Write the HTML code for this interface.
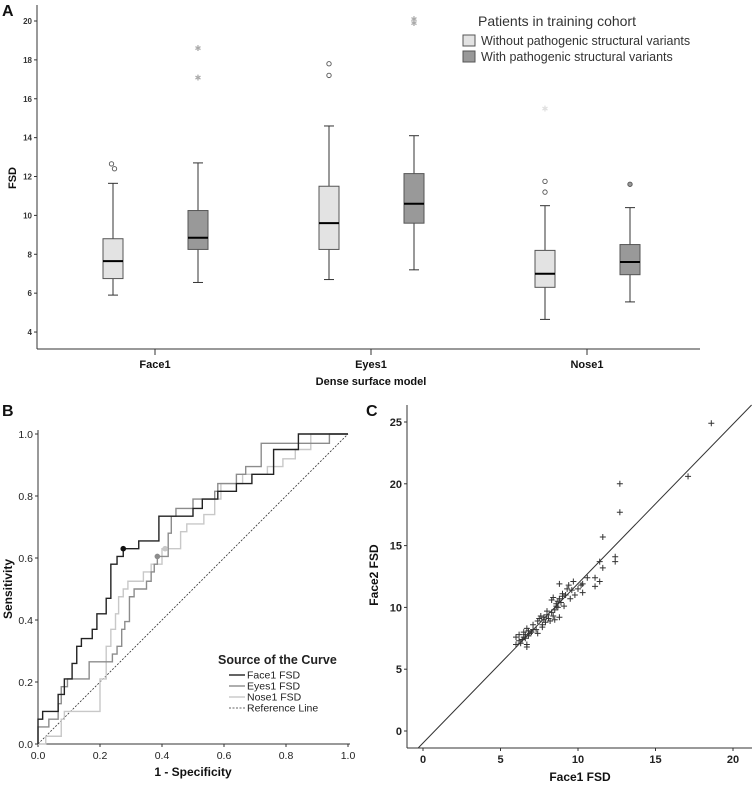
<!DOCTYPE html>
<html><head><meta charset="utf-8"><style>
body{margin:0;background:#fff;}
svg{display:block;font-family:"Liberation Sans",sans-serif;}
</style></head><body>
<svg id="fig" width="753" height="787" viewBox="0 0 753 787" xmlns="http://www.w3.org/2000/svg">
<rect width="753" height="787" fill="#fff"/>
<text x="2" y="16" font-size="16" font-weight="bold" fill="#111">A</text>
<text x="2" y="416" font-size="16" font-weight="bold" fill="#111">B</text>
<text x="366" y="416" font-size="16" font-weight="bold" fill="#111">C</text>
<g id="pa"></g>
<g id="pb"></g>
<g id="pc"></g>
</svg>
<script>
// ---------- Panel A data ----------
const groups=["Face1","Eyes1","Nose1"];
const lightStats=[[5.9,6.75,7.65,8.8,11.65],[6.7,8.25,9.6,11.5,14.6],[4.65,6.3,7.0,8.2,10.5]];
const darkStats=[[6.55,8.25,8.85,10.25,12.7],[7.2,9.6,10.6,12.15,14.1],[5.55,6.95,7.6,8.5,10.4]];
const lightCircles=[[12.4,12.65],[17.2,17.8],[11.2,11.75]];
const lightStars=[[],[],[15.5]];
const darkCircles=[[],[],[11.6]];
const darkStars=[[17.1,18.6],[19.9,20.1],[]];
const aTicks=[4,6,8,10,12,14,16,18,20];
// ---------- Panel B data ----------
const faceFpr=[0,0,0.015,0.015,0.065,0.065,0.085,0.085,0.11,0.11,0.125,0.125,0.14,0.14,0.175,0.175,0.19,0.19,0.22,0.22,0.235,0.235,0.255,0.255,0.275,0.275,0.325,0.325,0.39,0.39,0.5,0.5,0.53,0.53,0.58,0.58,0.64,0.64,0.69,0.69,0.76,0.76,0.84,0.84,1];
const faceTpr=[0,0.08,0.08,0.105,0.105,0.16,0.16,0.21,0.21,0.26,0.26,0.315,0.315,0.34,0.34,0.37,0.37,0.42,0.42,0.47,0.47,0.58,0.58,0.605,0.605,0.63,0.63,0.655,0.655,0.735,0.735,0.76,0.76,0.79,0.79,0.815,0.815,0.84,0.84,0.87,0.87,0.95,0.95,1,1];
const eyesFpr=[0,0,0.035,0.035,0.065,0.065,0.075,0.075,0.095,0.095,0.165,0.165,0.24,0.24,0.255,0.255,0.27,0.27,0.28,0.28,0.295,0.295,0.31,0.31,0.35,0.35,0.365,0.365,0.375,0.375,0.385,0.385,0.42,0.42,0.43,0.43,0.445,0.445,0.5,0.5,0.57,0.57,0.58,0.58,0.64,0.64,0.67,0.67,0.72,0.72,0.94,0.94,1];
const eyesTpr=[0,0.055,0.055,0.08,0.08,0.13,0.13,0.185,0.185,0.21,0.21,0.265,0.265,0.29,0.29,0.315,0.315,0.37,0.37,0.395,0.395,0.475,0.475,0.5,0.5,0.525,0.525,0.555,0.555,0.58,0.58,0.605,0.605,0.68,0.68,0.735,0.735,0.76,0.76,0.79,0.79,0.815,0.815,0.84,0.84,0.87,0.87,0.895,0.895,0.97,0.97,1,1];
const noseFpr=[0,0.025,0.025,0.075,0.075,0.085,0.085,0.2,0.2,0.22,0.22,0.235,0.235,0.25,0.25,0.26,0.26,0.275,0.275,0.29,0.29,0.34,0.34,0.365,0.365,0.4,0.4,0.46,0.46,0.48,0.48,0.535,0.535,0.57,0.57,0.59,0.59,0.66,0.66,0.74,0.74,0.79,0.79,0.83,0.83,0.88,0.88,1];
const noseTpr=[0,0,0.025,0.025,0.08,0.08,0.105,0.105,0.21,0.21,0.315,0.315,0.37,0.37,0.42,0.42,0.475,0.475,0.5,0.5,0.525,0.525,0.555,0.555,0.58,0.58,0.63,0.63,0.685,0.685,0.71,0.71,0.74,0.74,0.79,0.79,0.84,0.84,0.87,0.87,0.895,0.895,0.92,0.92,0.95,0.95,1,1];
const cutFpr=[0.275,0.385,0.41];
const cutTpr=[0.63,0.605,0.63];
const bTicks=[0,0.2,0.4,0.6,0.8,1.0];
// ---------- Panel C data ----------
const face1=[6.0,6.0,6.2,6.2,6.3,6.4,6.5,6.5,6.6,6.6,6.7,6.7,6.7,6.8,6.8,6.9,7.0,7.1,7.1,7.3,7.4,7.4,7.5,7.6,7.7,7.7,7.8,7.8,7.9,8.0,8.1,8.2,8.3,8.3,8.4,8.4,8.5,8.5,8.6,8.6,8.7,8.7,8.8,8.8,8.8,8.9,9.0,9.1,9.2,9.3,9.4,9.5,9.6,9.7,9.8,10.0,10.2,10.3,10.6,11.1,11.1,11.4,11.4,11.6,11.6,12.4,12.4,12.7,12.7,17.1,18.6,10.3,9.0,8.0];
const face2=[7.0,7.6,7.3,7.8,7.1,7.4,7.6,8.0,7.8,7.5,6.8,7.0,8.3,7.7,8.1,7.9,8.0,8.2,8.6,8.2,7.9,8.9,9.1,9.3,8.6,8.4,9.0,9.2,8.8,9.7,9.1,8.9,9.6,10.6,10.8,9.3,9.0,9.8,10.1,10.3,10.0,10.5,11.9,10.7,9.2,10.4,11.1,10.1,11.0,11.5,11.8,10.7,11.4,12.1,11.0,11.5,11.8,11.2,12.4,12.4,11.7,12.1,13.7,13.2,15.7,14.1,13.7,20.0,17.7,20.6,24.9,11.9,10.9,9.4];
const fitIntercept=-0.97, fitSlope=1.29;
const cXTicks=[0,5,10,15,20];
const cYTicks=[0,5,10,15,20,25];

const NS="http://www.w3.org/2000/svg";
function mk(parent,tag,attrs,txt){const e=document.createElementNS(NS,tag);for(const k in attrs)e.setAttribute(k,attrs[k]);if(txt!==undefined)e.textContent=txt;parent.appendChild(e);return e;}

// ---------- Panel A ----------
(function(){
const g=document.getElementById('pa');
const ya=v=>21+(20-v)*19.44;
const xc=i=>155+i*216;
let e;
e=mk(g,'line',{x1:37,y1:5,x2:37,y2:349,stroke:'#333','stroke-width':1});

e=mk(g,'line',{x1:37,y1:349,x2:700,y2:349,stroke:'#333','stroke-width':1});

aTicks.forEach(t=>{
 mk(g,'line',{x1:34,y1:ya(t),x2:37,y2:ya(t),stroke:'#333'});
 e=mk(g,'text',{x:32,y:ya(t)+3,'font-size':8,'font-weight':'bold','text-anchor':'end',fill:'#333'},t);
 
});
groups.forEach((n,i)=>{
 mk(g,'line',{x1:xc(i),y1:349,x2:xc(i),y2:355,stroke:'#333'});
 e=mk(g,'text',{x:xc(i),y:368,'font-size':11,'font-weight':'bold','text-anchor':'middle',fill:'#111'},n);
 
});
e=mk(g,'text',{x:371,y:385,'font-size':11,'font-weight':'bold','text-anchor':'middle',fill:'#111'},'Dense surface model');

e=mk(g,'text',{x:16,y:178,'font-size':11,'font-weight':'bold','text-anchor':'middle',fill:'#111',transform:'rotate(-90 16 178)'},'FSD');

function box(cx,s,fill,nm){
 const bg=mk(g,'g',{});
 
 mk(bg,'line',{x1:cx,y1:ya(s[0]),x2:cx,y2:ya(s[4]),stroke:'#333'});
 mk(bg,'line',{x1:cx-5,y1:ya(s[0]),x2:cx+5,y2:ya(s[0]),stroke:'#333'});
 mk(bg,'line',{x1:cx-5,y1:ya(s[4]),x2:cx+5,y2:ya(s[4]),stroke:'#333'});
 mk(bg,'rect',{x:cx-10,y:ya(s[3]),width:20,height:ya(s[1])-ya(s[3]),fill:fill,stroke:'#555'});
 mk(bg,'line',{x1:cx-10,y1:ya(s[2]),x2:cx+10,y2:ya(s[2]),stroke:'#000','stroke-width':2});
}
function circ(cx,v,fill,stroke){const c=mk(g,'circle',{cx:cx,cy:ya(v),r:2.2,fill:fill,stroke:stroke,'stroke-width':0.9});
 }
function star(cx,v,col){const t=mk(g,'text',{x:cx,y:ya(v)+3,'font-size':8,'text-anchor':'middle',fill:col,'font-family':'DejaVu Sans, sans-serif'},'✱');
 }
groups.forEach((n,i)=>{
 const lx=xc(i)-42, dx=xc(i)+43;
 box(lx,lightStats[i],'#e3e3e3','box-light-'+n.toLowerCase());
 box(dx,darkStats[i],'#999','box-dark-'+n.toLowerCase());
 lightCircles[i].forEach((v,k)=>circ(lx+(i===0?(k?-1.5:1.5):0),v,'#fff','#555'));
 lightStars[i].forEach(v=>star(lx,v,'#e0e0e0'));
 darkCircles[i].forEach(v=>circ(dx,v,'#999','#555'));
 darkStars[i].forEach(v=>star(dx,v,'#aaa'));
});
e=mk(g,'text',{x:557,y:26,'font-size':14,'text-anchor':'middle',fill:'#333'},'Patients in training cohort');

[['#e3e3e3','Without pathogenic structural variants'],['#999','With pathogenic structural variants']].forEach((d,k)=>{
 const lg=mk(g,'g',{});
 
 mk(lg,'rect',{x:463,y:35+k*16,width:12,height:11,fill:d[0],stroke:'#555'});
 mk(lg,'text',{x:481,y:45+k*16,'font-size':12.5,fill:'#333'},d[1]);
});
})();

// ---------- Panel B ----------
(function(){
const g=document.getElementById('pb');
const xb=v=>38+v*310, yb=v=>744-v*310;
let e;
e=mk(g,'line',{x1:38,y1:430,x2:38,y2:744,stroke:'#333'});

e=mk(g,'line',{x1:38,y1:744,x2:350,y2:744,stroke:'#333'});

bTicks.forEach(t=>{
 mk(g,'line',{x1:35,y1:yb(t),x2:38,y2:yb(t),stroke:'#333'});
 e=mk(g,'text',{x:33,y:yb(t)+4,'font-size':10.5,'text-anchor':'end',fill:'#222'},t.toFixed(1));
 
 mk(g,'line',{x1:xb(t),y1:744,x2:xb(t),y2:747,stroke:'#333'});
 e=mk(g,'text',{x:xb(t),y:759,'font-size':10.5,'text-anchor':'middle',fill:'#222'},t.toFixed(1));
 
});
e=mk(g,'text',{x:193,y:776,'font-size':12,'font-weight':'bold','text-anchor':'middle',fill:'#111'},'1 - Specificity');

e=mk(g,'text',{x:12,y:589,'font-size':12,'font-weight':'bold','text-anchor':'middle',fill:'#111',transform:'rotate(-90 12 589)'},'Sensitivity');

e=mk(g,'line',{x1:xb(0),y1:yb(0),x2:xb(1),y2:yb(1),stroke:'#333','stroke-dasharray':'2,1.5','stroke-width':0.8});

function curve(fx,ty,col,nm){const p=fx.map((v,i)=>xb(v)+','+yb(ty[i])).join(' ');
 const l=mk(g,'polyline',{points:p,fill:'none',stroke:col,'stroke-width':1.4});
 }
curve(noseFpr,noseTpr,'#c8c8c8','nose1-roc-curve');
curve(eyesFpr,eyesTpr,'#8c8c8c','eyes1-roc-curve');
curve(faceFpr,faceTpr,'#222','face1-roc-curve');
const cc=['#111','#8c8c8c','#c8c8c8'];
cutFpr.forEach((v,i)=>{const c=mk(g,'circle',{cx:xb(v),cy:yb(cutTpr[i]),r:2.8,fill:cc[i]});
 });
e=mk(g,'text',{x:218,y:664,'font-size':12.5,'font-weight':'bold',fill:'#222'},'Source of the Curve');

[['#222','Face1 FSD',''],['#8c8c8c','Eyes1 FSD',''],['#c8c8c8','Nose1 FSD',''],['#333','Reference Line','2,1.5']].forEach((d,k)=>{
 const lg=mk(g,'g',{});
 
 const y=675+k*11;
 mk(lg,'line',{x1:229,y1:y,x2:245,y2:y,stroke:d[0],'stroke-width':d[2]?0.8:1.4,'stroke-dasharray':d[2]||'none'});
 mk(lg,'text',{x:247,y:y+3.5,'font-size':10.5,fill:'#222'},d[1]);
});
})();

// ---------- Panel C ----------
(function(){
const g=document.getElementById('pc');
const xcv=v=>423+v*15.5, ycv=v=>731-v*12.36;
let e;
e=mk(g,'line',{x1:407,y1:405,x2:407,y2:748,stroke:'#333'});

e=mk(g,'line',{x1:407,y1:748,x2:752,y2:748,stroke:'#333'});

cYTicks.forEach(t=>{
 mk(g,'line',{x1:404,y1:ycv(t),x2:407,y2:ycv(t),stroke:'#333'});
 e=mk(g,'text',{x:402,y:ycv(t)+4,'font-size':11,'font-weight':'bold','text-anchor':'end',fill:'#222'},t);
 
});
cXTicks.forEach(t=>{
 mk(g,'line',{x1:xcv(t),y1:748,x2:xcv(t),y2:751,stroke:'#333'});
 e=mk(g,'text',{x:xcv(t),y:763,'font-size':11,'font-weight':'bold','text-anchor':'middle',fill:'#222'},t);
 
});
e=mk(g,'text',{x:580,y:781,'font-size':12,'font-weight':'bold','text-anchor':'middle',fill:'#111'},'Face1 FSD');

e=mk(g,'text',{x:378,y:575,'font-size':12,'font-weight':'bold','text-anchor':'middle',fill:'#111',transform:'rotate(-90 378 575)'},'Face2 FSD');

const x0=-0.32,x1=21.2;
e=mk(g,'line',{x1:xcv(x0),y1:ycv(fitIntercept+fitSlope*x0),x2:xcv(x1),y2:ycv(fitIntercept+fitSlope*x1),stroke:'#333','stroke-width':1});

face1.forEach((v,i)=>{
 const px=xcv(v),py=ycv(face2[i]);
 const p=mk(g,'path',{d:`M${px-3},${py}H${px+3}M${px},${py-3}V${py+3}`,stroke:'#333','stroke-width':1,fill:'none'});
 
});
})();
</script>
</body></html>
